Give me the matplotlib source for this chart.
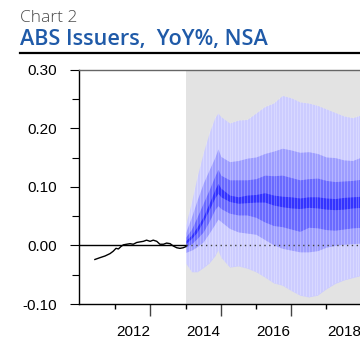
import matplotlib
matplotlib.use("Agg")
import matplotlib.pyplot as plt
from matplotlib.ticker import MultipleLocator, FixedLocator

plt.rcParams['axes.unicode_minus'] = False

# --- history: ABS issuers, YoY% ---
hist_x = [2011.42, 2011.56, 2011.71, 2011.85, 2011.94, 2012.02, 2012.09, 2012.16,
          2012.23, 2012.32, 2012.42, 2012.51, 2012.61, 2012.70, 2012.80, 2012.89,
          2012.99, 2013.08, 2013.18, 2013.27, 2013.37, 2013.46, 2013.56, 2013.65,
          2013.75, 2013.84, 2013.93, 2014.01]
hist_y = [-0.024, -0.021, -0.018, -0.014, -0.010, -0.005, -0.006, -0.002,
          0.001, 0.002, 0.003, 0.002, 0.005, 0.006, 0.007, 0.009,
          0.007, 0.009, 0.007, 0.002, 0.002, 0.004, 0.003, -0.001,
          -0.004, -0.005, -0.004, -0.002]

# --- forecast fan: band edges ---
fc_x = [2014.0, 2014.17, 2014.33, 2014.5, 2014.67, 2014.83, 2014.92, 2015.0,
        2015.25, 2015.5, 2015.75, 2016.0, 2016.25, 2016.5, 2016.75, 2017.0,
        2017.25, 2017.5, 2017.75, 2018.0, 2018.25, 2018.5, 2018.75, 2019.0]
outer_lo = [-0.030, -0.045, -0.045, -0.038, -0.030, -0.018, -0.008, -0.020,
            -0.037, -0.035, -0.039, -0.045, -0.054, -0.064, -0.068, -0.077,
            -0.085, -0.088, -0.085, -0.074, -0.065, -0.059, -0.055, -0.051]
mid_lo = [-0.012, -0.008, -0.002, 0.006, 0.021, 0.036, 0.045, 0.041,
          0.029, 0.023, 0.021, 0.019, 0.010, 0.001, -0.005, -0.008,
          -0.011, -0.011, -0.009, -0.003, 0.000, 0.002, 0.003, 0.004]
inner_lo = [-0.003, 0.003, 0.012, 0.023, 0.041, 0.061, 0.068, 0.063,
            0.055, 0.052, 0.052, 0.048, 0.040, 0.034, 0.032, 0.028,
            0.024, 0.031, 0.030, 0.027, 0.026, 0.028, 0.030, 0.031]
core_lo = [0.003, 0.012, 0.023, 0.041, 0.061, 0.081, 0.089, 0.083,
           0.075, 0.072, 0.073, 0.074, 0.074, 0.069, 0.066, 0.064,
           0.063, 0.065, 0.064, 0.062, 0.061, 0.062, 0.064, 0.065]
core_hi = [0.008, 0.018, 0.032, 0.049, 0.072, 0.095, 0.106, 0.098,
           0.086, 0.083, 0.086, 0.087, 0.090, 0.086, 0.084, 0.083,
           0.081, 0.083, 0.083, 0.081, 0.080, 0.082, 0.083, 0.084]
inner_hi = [0.014, 0.028, 0.049, 0.072, 0.095, 0.118, 0.130, 0.120,
            0.112, 0.112, 0.112, 0.114, 0.120, 0.119, 0.120, 0.116,
            0.112, 0.114, 0.115, 0.111, 0.109, 0.110, 0.111, 0.113]
mid_hi = [0.022, 0.049, 0.078, 0.106, 0.129, 0.150, 0.165, 0.152,
          0.143, 0.145, 0.149, 0.151, 0.157, 0.161, 0.166, 0.163,
          0.159, 0.160, 0.157, 0.151, 0.150, 0.146, 0.145, 0.151]
outer_hi = [0.035, 0.075, 0.118, 0.158, 0.192, 0.218, 0.226, 0.220,
            0.209, 0.214, 0.215, 0.226, 0.237, 0.243, 0.256, 0.252,
            0.245, 0.243, 0.239, 0.233, 0.227, 0.221, 0.218, 0.223]

year_labels = ['2012', '2014', '2016', '2018']
label_pos = [2012.5, 2014.5, 2016.5, 2018.5]
fc_start = 2014.0

fig = plt.figure(figsize=(3.6, 3.38), dpi=100)
ax = fig.add_axes([78.7 / 360, 1 - 304 / 338, 1 - 78.7 / 360, (304 - 69.7) / 338])

xmin, xmax = 2010.96, 2018.96
ax.set_xlim(xmin, xmax)
ax.set_ylim(-0.10, 0.30)

# forecast period shading
ax.axvspan(fc_start, xmax + 1, color='#e3e3e3', lw=0, zorder=0)

# fan bands, outer to inner
outer = ax.fill_between(fc_x, outer_lo, outer_hi, color='#ccccff', lw=0, zorder=1)
ax.fill_between(fc_x, mid_lo, mid_hi, color='#9d9dff', lw=0, zorder=2)
ax.fill_between(fc_x, inner_lo, inner_hi, color='#6a6aff', lw=0, zorder=3)
ax.fill_between(fc_x, core_lo, core_hi, color='#3333ff', lw=0, zorder=4)

# monthly seams across the fan
months = [fc_start + m / 12 for m in range(61)]
seams = ax.vlines(months, -0.2, 0.4, color='white', lw=0.6, alpha=0.3, zorder=5)
seams.set_clip_path(outer.get_paths()[0], outer.get_transform())

# zero line: solid over history, dotted over forecast
ax.plot([xmin, fc_start], [0, 0], color='black', lw=1.0, zorder=6)
ax.plot([fc_start, xmax + 1], [0, 0], color='#444444', lw=1.0,
        ls=(0, (1, 2.5)), zorder=6)

ax.plot(hist_x, hist_y, color='black', lw=1.0, zorder=7)

# spines
ax.spines['right'].set_visible(False)
ax.spines['top'].set_color('#666666')
for s in ('left', 'bottom'):
    ax.spines[s].set_color('black')
for s in ('left', 'bottom', 'top'):
    ax.spines[s].set_linewidth(1.0)

tick_font = dict(family='Liberation Sans', size=11)

ax.yaxis.set_major_locator(MultipleLocator(0.10))
ax.yaxis.set_minor_locator(MultipleLocator(0.05))
ax.set_yticks([-0.10, 0.0, 0.10, 0.20, 0.30])
ax.set_yticklabels(['-0.10', '0.00', '0.10', '0.20', '0.30'], fontdict=tick_font)
ax.tick_params(axis='y', which='major', length=6.5, width=0.8, pad=9, color='black')
ax.tick_params(axis='y', which='minor', length=5, width=0.8, color='black')

# year boundary ticks: long on odd years, short on even years
ax.xaxis.set_major_locator(FixedLocator([2013, 2015, 2017, 2019]))
ax.xaxis.set_minor_locator(FixedLocator([2012, 2014, 2016, 2018]))
ax.set_xticklabels([])
ax.tick_params(axis='x', which='major', length=8.5, width=1.0, color='#444444')
ax.tick_params(axis='x', which='minor', length=3.5, width=1.0, color='black')

# year labels centred on each year
sec = ax.secondary_xaxis('bottom')
sec.set_xticks(label_pos)
sec.set_xticklabels(year_labels, fontdict=tick_font)
sec.tick_params(length=0, pad=15)
sec.spines['bottom'].set_visible(False)

# header
fig.text(20 / 360, 1 - 21.5 / 338, 'Chart 2', family='Open Sans', weight='light',
         size=12.5, color='#4a4a4a', va='baseline', ha='left')
fig.text(20 / 360, 1 - 45 / 338, 'ABS Issuers,  YoY%, NSA', family='Open Sans',
         weight='semibold', size=15.6, color='#1f5aa8', va='baseline', ha='left')
fig.add_artist(plt.Line2D([20 / 360, 1.0], [1 - 53.3 / 338] * 2, color='black',
                          lw=1.6, transform=fig.transFigure))

fig.savefig('out.png', dpi=100)
